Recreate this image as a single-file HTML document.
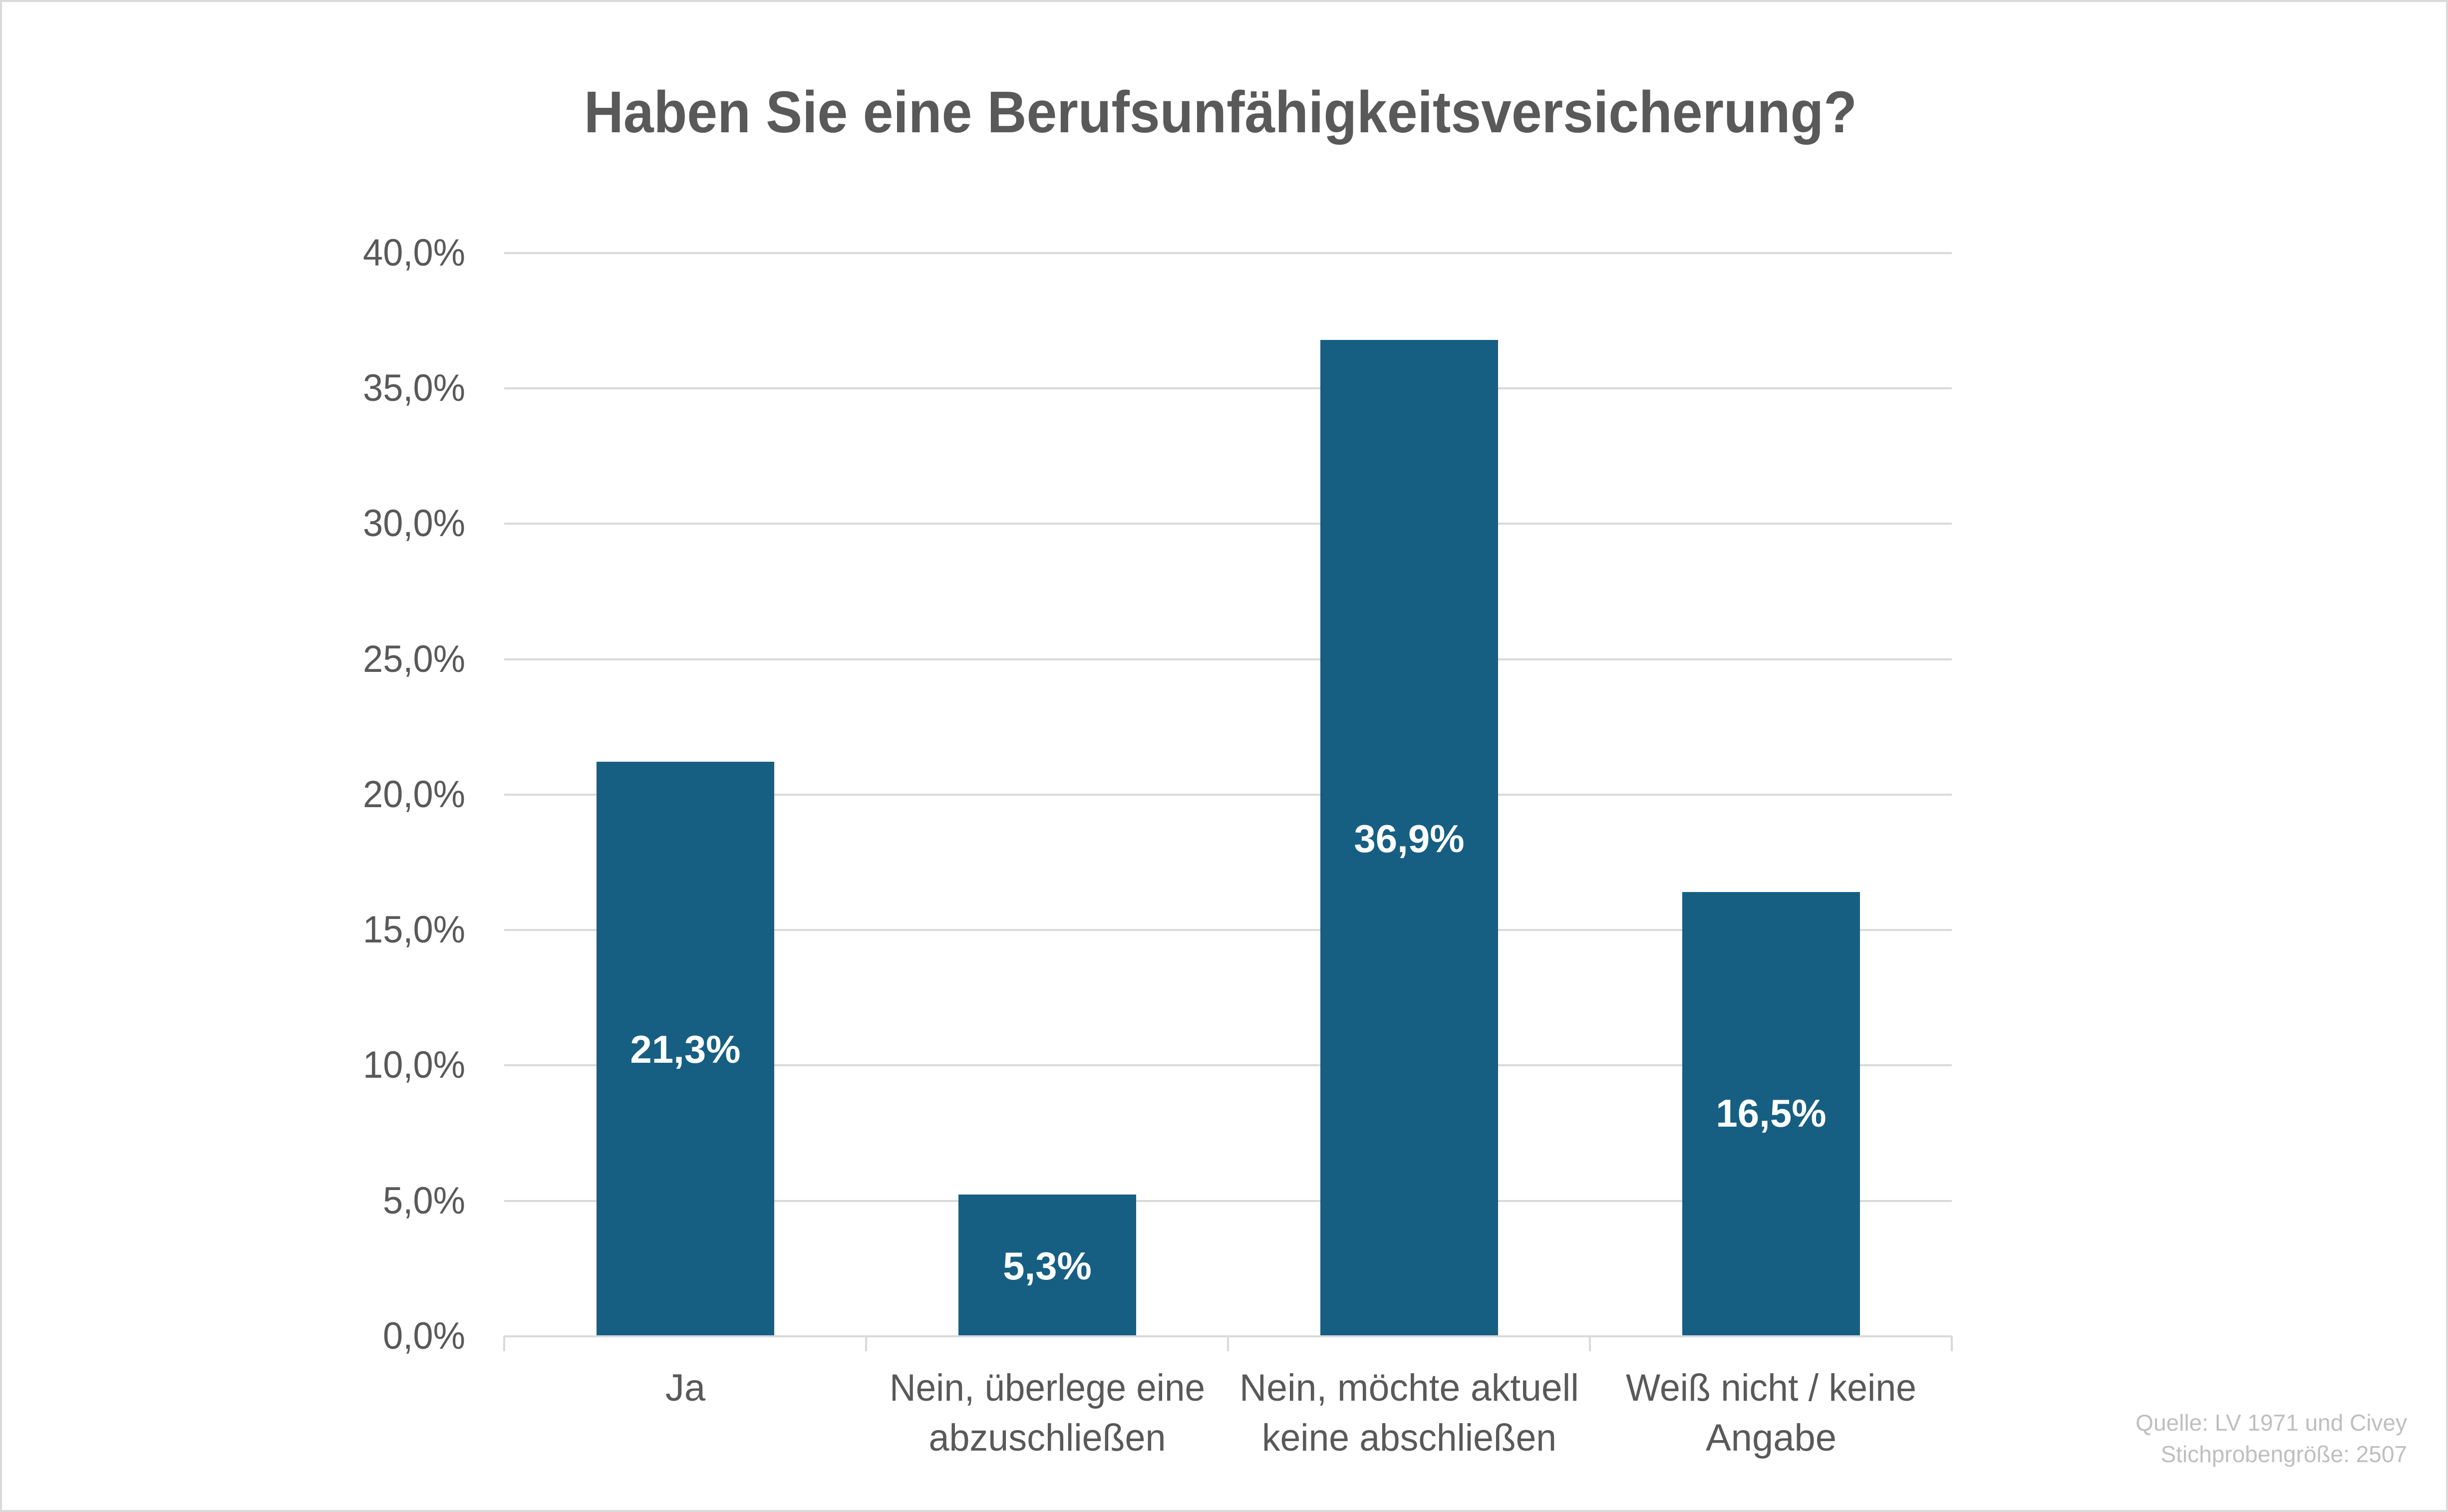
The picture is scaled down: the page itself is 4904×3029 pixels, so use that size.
<!DOCTYPE html>
<html><head><meta charset="utf-8"><style>html,body{margin:0;padding:0;background:#fff}svg{display:block}</style></head>
<body>
<svg width="4904" height="3029" viewBox="0 0 4904 3029" xmlns="http://www.w3.org/2000/svg" font-family="'Liberation Sans', sans-serif">
<rect x="0" y="0" width="4904" height="3029" fill="#fff"/>
<rect x="2" y="2" width="4900" height="3025" fill="none" stroke="#d9d9d9" stroke-width="4"/>
<text x="2445" y="265" text-anchor="middle" font-size="118" font-weight="bold" fill="#595959" textLength="2550" lengthAdjust="spacingAndGlyphs">Haben Sie eine Berufsunfähigkeitsversicherung?</text>
<g stroke="#d9d9d9" stroke-width="4">
<line x1="1010" x2="3910" y1="507" y2="507"/>
<line x1="1010" x2="3910" y1="778" y2="778"/>
<line x1="1010" x2="3910" y1="1049" y2="1049"/>
<line x1="1010" x2="3910" y1="1321" y2="1321"/>
<line x1="1010" x2="3910" y1="1592" y2="1592"/>
<line x1="1010" x2="3910" y1="1863" y2="1863"/>
<line x1="1010" x2="3910" y1="2134" y2="2134"/>
<line x1="1010" x2="3910" y1="2406" y2="2406"/>
<line x1="1010" x2="3910" y1="2677" y2="2677"/>
<line x1="1010" x2="1010" y1="2677" y2="2707"/>
<line x1="1735" x2="1735" y1="2677" y2="2707"/>
<line x1="2460" x2="2460" y1="2677" y2="2707"/>
<line x1="3185" x2="3185" y1="2677" y2="2707"/>
<line x1="3910" x2="3910" y1="2677" y2="2707"/>
</g>
<g font-size="76" fill="#595959" text-anchor="end">
<text x="932" y="532" textLength="205" lengthAdjust="spacingAndGlyphs">40,0%</text>
<text x="932" y="803" textLength="205" lengthAdjust="spacingAndGlyphs">35,0%</text>
<text x="932" y="1074" textLength="205" lengthAdjust="spacingAndGlyphs">30,0%</text>
<text x="932" y="1346" textLength="205" lengthAdjust="spacingAndGlyphs">25,0%</text>
<text x="932" y="1617" textLength="205" lengthAdjust="spacingAndGlyphs">20,0%</text>
<text x="932" y="1888" textLength="205" lengthAdjust="spacingAndGlyphs">15,0%</text>
<text x="932" y="2159" textLength="205" lengthAdjust="spacingAndGlyphs">10,0%</text>
<text x="932" y="2431" textLength="165" lengthAdjust="spacingAndGlyphs">5,0%</text>
<text x="932" y="2702" textLength="165" lengthAdjust="spacingAndGlyphs">0,0%</text>
</g>
<g fill="#165f83">
<rect x="1195" y="1526" width="356" height="1149"/>
<rect x="1920" y="2393" width="356" height="282"/>
<rect x="2645" y="681" width="356" height="1994"/>
<rect x="3370" y="1787" width="356" height="888"/>
</g>
<g font-size="78" font-weight="bold" fill="#fff" text-anchor="middle">
<text x="1373" y="2129">21,3%</text>
<text x="2098" y="2563">5,3%</text>
<text x="2823" y="1707">36,9%</text>
<text x="3548" y="2257">16,5%</text>
</g>
<g font-size="76" fill="#595959" text-anchor="middle">
<text x="1373" y="2806">Ja</text>
<text x="2098" y="2806" textLength="632" lengthAdjust="spacingAndGlyphs">Nein, überlege eine</text>
<text x="2098" y="2906" textLength="475" lengthAdjust="spacingAndGlyphs">abzuschließen</text>
<text x="2823" y="2806" textLength="680" lengthAdjust="spacingAndGlyphs">Nein, möchte aktuell</text>
<text x="2823" y="2906" textLength="590" lengthAdjust="spacingAndGlyphs">keine abschließen</text>
<text x="3548" y="2806" textLength="582" lengthAdjust="spacingAndGlyphs">Weiß nicht / keine</text>
<text x="3548" y="2906">Angabe</text>
</g>
<g font-size="46" fill="#bfbfbf" text-anchor="end">
<text x="4822" y="2866">Quelle: LV 1971 und Civey</text>
<text x="4822" y="2929">Stichprobengröße: 2507</text>
</g>
</svg>
</body></html>
